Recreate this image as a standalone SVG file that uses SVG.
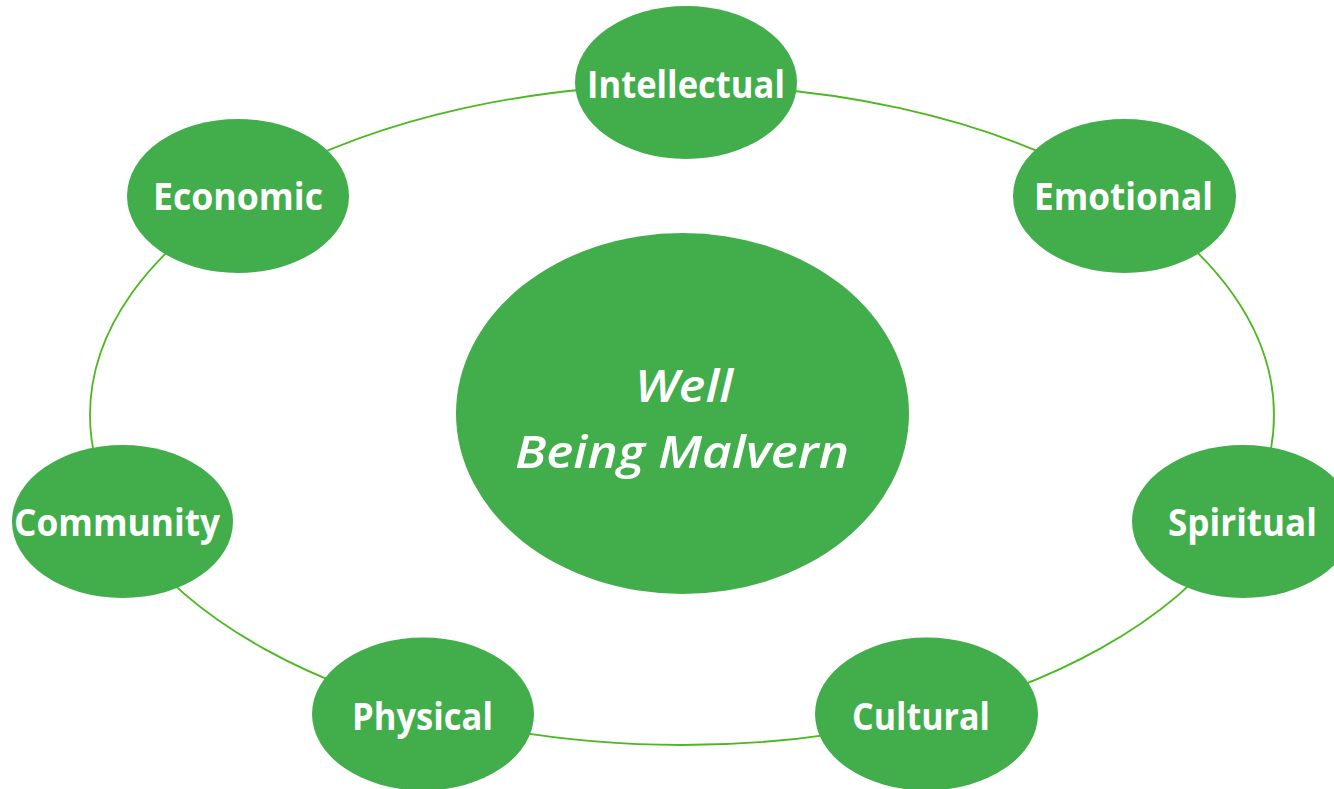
<svg xmlns="http://www.w3.org/2000/svg" width="1334" height="789" viewBox="0 0 1334 789">
  <style>
    .node { fill: #42ad4b; }
    .label { fill: #ffffff; font-family: "Open Sans", "Noto Sans", "Liberation Sans", sans-serif; font-weight: 700; font-size: 38px; text-anchor: middle; }
    .title { fill: #ffffff; font-family: "Open Sans", "Noto Sans", "Liberation Sans", sans-serif; font-style: italic; font-weight: 600; font-size: 45px; text-anchor: middle; }
    .ring { fill: none; stroke: #4bb81e; stroke-width: 1.8; }
  </style>
  <rect width="1334" height="789" fill="#ffffff"/>

  <!-- ring linking the seven dimensions -->
  <g id="connectors">
    <ellipse class="ring" cx="682" cy="415" rx="592" ry="330"/>
  </g>

  <!-- centre -->
  <g id="center">
    <ellipse class="node" cx="682.5" cy="413.5" rx="226.5" ry="180.5"/>
    <text class="title" x="684" y="402" textLength="98" lengthAdjust="spacingAndGlyphs">Well</text>
    <text class="title" x="682" y="468" textLength="334" lengthAdjust="spacingAndGlyphs">Being Malvern</text>
  </g>

  <g id="intellectual">
    <ellipse class="node" cx="686" cy="82.5" rx="111" ry="76.5"/>
    <text class="label" x="686" y="98" textLength="198" lengthAdjust="spacingAndGlyphs">Intellectual</text>
  </g>

  <g id="emotional">
    <ellipse class="node" cx="1124.5" cy="196" rx="111.5" ry="77"/>
    <text class="label" x="1123.5" y="210" textLength="179" lengthAdjust="spacingAndGlyphs">Emotional</text>
  </g>

  <g id="spiritual">
    <ellipse class="node" cx="1243" cy="521.5" rx="111" ry="76.5"/>
    <text class="label" x="1242.5" y="536" textLength="149" lengthAdjust="spacingAndGlyphs">Spiritual</text>
  </g>

  <g id="cultural">
    <ellipse class="node" cx="926.5" cy="714" rx="111.5" ry="76.5"/>
    <text class="label" x="921" y="730" textLength="138" lengthAdjust="spacingAndGlyphs">Cultural</text>
  </g>

  <g id="physical">
    <ellipse class="node" cx="423" cy="714" rx="111" ry="76.5"/>
    <text class="label" x="422.5" y="730" textLength="141" lengthAdjust="spacingAndGlyphs">Physical</text>
  </g>

  <g id="community">
    <ellipse class="node" cx="122.5" cy="521.5" rx="110.5" ry="76.5"/>
    <text class="label" x="117" y="536" textLength="206" lengthAdjust="spacingAndGlyphs">Community</text>
  </g>

  <g id="economic">
    <ellipse class="node" cx="238" cy="196" rx="111" ry="77"/>
    <text class="label" x="238" y="210" textLength="170" lengthAdjust="spacingAndGlyphs">Economic</text>
  </g>
</svg>
